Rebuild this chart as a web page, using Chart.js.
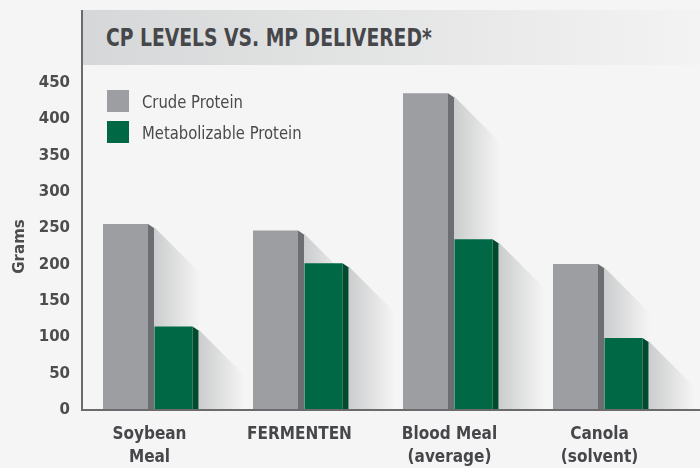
<!DOCTYPE html>
<html>
<head>
<meta charset="utf-8">
<script src="https://cdn.jsdelivr.net/npm/chart.js@4/dist/chart.umd.min.js"></script>
<style>
    body { margin: 0; background: #f5f5f5; }
    .wrap { position: relative; width: 700px; height: 468px; background: #f5f5f5; }
    canvas { position: absolute; left: 0; top: 0; }
    .title-band {
        position: absolute; left: 83px; top: 10px; width: 617px; height: 55px;
        background: linear-gradient(to right, #d6d7d8, #f3f3f3);
        font: bold 25.5px "DejaVu Sans Condensed", sans-serif;
        color: #46474a; line-height: 55px; padding-left: 23px; box-sizing: border-box;
    }
    .title-band span { display: inline-block; transform: scaleX(0.817); transform-origin: left center; white-space: nowrap; }
    .legend { position: absolute; left: 107px; top: 90px; }
    .legend-item { display: flex; align-items: center; height: 22px; margin-bottom: 9px;
        font: 18.5px "DejaVu Sans Condensed", sans-serif; color: #4a4a4c; white-space: nowrap; }
    .legend-item .txt { display: inline-block; transform: scaleX(0.89); transform-origin: left center; }
    .legend-box { width: 22px; height: 22px; margin-right: 13px; flex: none; }
</style>
</head>
<body>
<div class="wrap">
    <canvas id="cpChart" width="700" height="468"></canvas>
    <div class="title-band"><span>CP LEVELS VS. MP DELIVERED*</span></div>
    <div class="legend" id="legend"></div>
</div>
<script>
const categories = [['Soybean', 'Meal'], ['FERMENTEN'], ['Blood Meal', '(average)'], ['Canola', '(solvent)']];
const crudeProtein = [256, 247, 436, 201];
const metabolizableProtein = [115, 202, 235, 99];
const yTicks = [0, 50, 100, 150, 200, 250, 300, 350, 400, 450];

const SIDE = 6;      // width of the darker side face
const SHADOW = 46;   // horizontal reach of the drop shadow

const sideColors = ['#6d6e72', '#004a2e'];

const depthPlugin = {
    id: 'depth',
    beforeDatasetsDraw(chart) {
        const ctx = chart.ctx;
        ctx.save();
        chart.data.datasets.forEach((ds, i) => {
            chart.getDatasetMeta(i).data.forEach(bar => {
                const right = bar.x + bar.width / 2 + SIDE;
                const g = ctx.createLinearGradient(right, 0, right + SHADOW, 0);
                g.addColorStop(0, '#cbcccd');
                g.addColorStop(1, '#f5f5f5');
                ctx.fillStyle = g;
                ctx.beginPath();
                ctx.moveTo(right, bar.y + 3);
                ctx.lineTo(right + SHADOW, bar.y + 3 + SHADOW);
                ctx.lineTo(right + SHADOW, bar.base);
                ctx.lineTo(right, bar.base);
                ctx.closePath();
                ctx.fill();
            });
        });
        ctx.restore();
    },
    afterDatasetsDraw(chart) {
        const ctx = chart.ctx;
        ctx.save();
        chart.data.datasets.forEach((ds, i) => {
            ctx.fillStyle = sideColors[i];
            chart.getDatasetMeta(i).data.forEach(bar => {
                const left = bar.x + bar.width / 2;
                ctx.beginPath();
                ctx.moveTo(left, bar.y);
                ctx.lineTo(left + SIDE, bar.y + 4);
                ctx.lineTo(left + SIDE, bar.base);
                ctx.lineTo(left, bar.base);
                ctx.closePath();
                ctx.fill();
            });
        });
        ctx.restore();
    }
};

const ctx = document.getElementById('cpChart').getContext('2d');
const chart = new Chart(ctx, {
    type: 'bar',
    data: {
        datasets: [{
            label: 'Crude Protein',
            data: crudeProtein.map((v, i) => ({ x: i, y: v })),
            backgroundColor: '#9d9ea2',
            barPercentage: 45 / 48,
            categoryPercentage: 0.64
        }, {
            label: 'Metabolizable Protein',
            data: metabolizableProtein.map((v, i) => ({ x: i, y: v })),
            backgroundColor: '#006844',
            barPercentage: 38 / 48,
            categoryPercentage: 0.64
        }]
    },
    options: {
        responsive: false,
        animation: false,
        layout: { padding: { left: 10, top: 83, right: 0, bottom: 0 } },
        plugins: {
            legend: { display: false },
            tooltip: { enabled: false }
        },
        scales: {
            x: {
                type: 'linear',
                offset: false,
                min: -0.45,
                max: 3.67,
                bounds: 'data',
                afterBuildTicks: (scale) => {
                    scale.ticks = categories.map((_, i) => ({ value: i }));
                },
                afterFit: (scale) => { scale.height = 58; },
                grid: { display: false, drawTicks: false, offset: false },
                border: { display: true, color: '#6b6b6d', width: 2, z: 1 },
                ticks: {
                    autoSkip: false,
                    maxRotation: 0,
                    padding: 14,
                    color: '#46474a',
                    font: { family: '"DejaVu Sans Condensed", sans-serif', size: 17, weight: 'bold', lineHeight: 1.3 },
                    callback: (value) => categories[value] || ''
                }
            },
            y: {
                min: 0,
                max: 450,
                afterBuildTicks: (scale) => {
                    scale.ticks = yTicks.map(v => ({ value: v }));
                },
                afterFit: (scale) => { scale.width = 72; },
                grid: { display: false, drawTicks: false },
                border: { display: true, color: '#6b6b6d', width: 2, z: 1 },
                ticks: {
                    padding: 12,
                    color: '#4d4d4f',
                    font: { family: '"DejaVu Sans", sans-serif', size: 15, weight: 'bold' }
                },
                title: {
                    display: true,
                    text: 'Grams',
                    color: '#4d4d4f',
                    padding: { top: 1, bottom: 0 },
                    font: { family: '"DejaVu Sans", sans-serif', size: 15, weight: 'bold' }
                }
            }
        }
    },
    plugins: [depthPlugin, {
        id: 'axisExtend',
        afterDraw(c) {
            // the y axis line runs on up past the title band
            const g = c.ctx;
            g.save();
            g.fillStyle = '#6b6b6d';
            g.fillRect(c.chartArea.left - 1, 10, 2, c.chartArea.top - 10);
            g.restore();
        }
    }]
});

function buildLegend(chart) {
    const legend = document.getElementById('legend');
    legend.innerHTML = chart.data.datasets.map(ds => `
        <div class="legend-item">
            <span class="legend-box" style="background:${ds.backgroundColor}"></span>
            <span class="txt">${ds.label}</span>
        </div>
    `).join('');
}
buildLegend(chart);
</script>
</body>
</html>
